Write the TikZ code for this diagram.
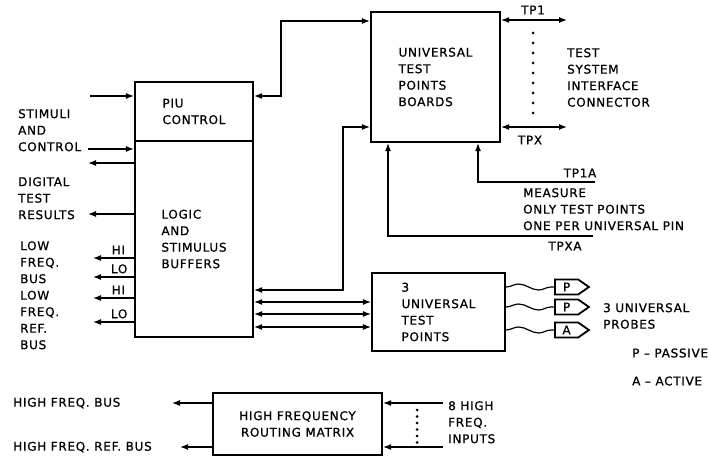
\documentclass[tikz,border=0pt]{standalone}
\usepackage{fontspec}
\setmainfont{DejaVu Sans}[LetterSpace=6, FakeBold=0.8]
\usetikzlibrary{arrows.meta, positioning, shapes.symbols, decorations.pathmorphing}
\newcommand\lbl{\fontsize{12}{16.5}\selectfont}

\begin{document}
\begin{tikzpicture}[
  x=1pt, y=-1pt,
  box/.style={draw, line width=2.2pt, inner sep=0pt, align=left, font=\lbl},
  txt/.style={inner sep=0pt, align=left, font=\lbl},
  wire/.style={line width=1.2pt},
  probe/.style={draw, line width=1.8pt, signal, signal to=east, signal pointer angle=70, minimum width=34pt, minimum height=15pt, inner sep=1pt, font=\lbl},
  wavy/.style={wire, decorate, decoration={snake, amplitude=3pt, segment length=40pt}},
  dots/.style={line width=3pt, line cap=round, dash pattern=on 0pt off 10pt},
  >={Latex[length=8pt,width=6pt]}
]
\useasboundingbox (0,0) rectangle (708,457);

\node[box, minimum width=118pt, minimum height=59pt]  (piu)   at (194,111.5) {PIU\\CONTROL};
\node[box, minimum width=118pt, minimum height=196pt] (logic) at (194,239)   {LOGIC\\AND\\STIMULUS\\BUFFERS};
\node[box, minimum width=129pt, minimum height=130pt] (utpb)  at (435.5,77)  {UNIVERSAL\\TEST\\POINTS\\BOARDS};
\node[box, minimum width=133pt, minimum height=78pt]  (utp)   at (438.5,312) {3\\UNIVERSAL\\TEST\\POINTS};
\node[box, minimum width=169pt, minimum height=62pt, align=center] (hfrm) at (297.5,424) {HIGH FREQUENCY\\ROUTING MATRIX};

\node[probe, anchor=west] (prb1) at (554,287) {P};
\node[probe, anchor=west] (prb2) at (554,307) {P};
\node[probe, anchor=west] (prb3) at (554,330) {A};

\node[txt, anchor=north west] (stimtxt) at (18,109)  {STIMULI\\AND\\CONTROL};
\node[txt, anchor=north west] (digtxt)  at (18,177)  {DIGITAL\\TEST\\RESULTS};
\node[txt, anchor=north west] (lowtxt)  at (20,241)  {LOW\\FREQ.\\BUS\\LOW\\FREQ.\\REF.\\BUS};
\node[txt, anchor=west] (hfbustxt) at (13,403) {HIGH FREQ. BUS};
\node[txt, anchor=west] (hfreftxt) at (13,447) {HIGH FREQ. REF. BUS};
\node[txt, anchor=north west] (tsictxt) at (567,48)  {TEST\\SYSTEM\\INTERFACE\\CONNECTOR};
\node[txt] (tp1txt)  at (533,10)  {TP1};
\node[txt] (tpxtxt)  at (530,140) {TPX};
\node[txt] (tp1atxt) at (580,173) {TP1A};
\node[txt, anchor=north west] (meastxt) at (523,188) {MEASURE\\ONLY TEST POINTS\\ONE PER UNIVERSAL PIN};
\node[txt] (tpxatxt) at (565,246) {TPXA};
\node[txt, anchor=north west] (prbtxt) at (603,303) {3 UNIVERSAL\\PROBES};
\node[txt, anchor=west] (pastxt) at (632,353) {P – PASSIVE};
\node[txt, anchor=west] (acttxt) at (632,381) {A – ACTIVE};
\node[txt, anchor=north west] (hfintxt) at (448,401) {8 HIGH\\FREQ.\\INPUTS};

\coordinate (stim) at (90,96);
\coordinate (ctrl) at (88,149);
\coordinate (res1) at (88,163);
\coordinate (res2) at (88,214);
\coordinate (lfhi) at (93,258);
\coordinate (lflo) at (93,277);
\coordinate (rfhi) at (93,298);
\coordinate (rflo) at (93,322);
\coordinate (piujog) at (281,21);
\coordinate (tpjog) at (343,127);
\coordinate (tpret) at (343,290);
\coordinate (bus1) at (310,302);
\coordinate (bus2) at (310,314);
\coordinate (bus3) at (310,327);
\coordinate (tp1) at (567,20);
\coordinate (tpx) at (567,127);
\coordinate (tp1a) at (595,182);
\coordinate (tp1ajog) at (478,182);
\coordinate (tpxa) at (593,236);
\coordinate (tpxajog) at (388,236);
\coordinate (hfbus) at (172,403);
\coordinate (hfref) at (180,447);
\coordinate (hfin1) at (443,403);
\coordinate (hfin2) at (443,447);
\coordinate (tpdot1) at (533,33);
\coordinate (tpdot2) at (533,115);
\coordinate (hfdot1) at (417,410);
\coordinate (hfdot2) at (417,443);

\draw[wire, ->] (stim) -- (stim -| piu.west);
\draw[wire, ->] (ctrl) -- (ctrl -| logic.west);
\draw[wire, ->] (res1 -| logic.west) -- (res1);
\draw[wire, ->] (res2 -| logic.west) -- (res2);
\draw[wire, ->] (lfhi -| logic.west) -- node[txt, above=3pt, pos=0.38] (hi1) {HI} (lfhi);
\draw[wire, ->] (lflo -| logic.west) -- node[txt, above=3pt, pos=0.36] (lo1) {LO} (lflo);
\draw[wire, ->] (rfhi -| logic.west) -- node[txt, above=3pt, pos=0.38] (hi2) {HI} (rfhi);
\draw[wire, ->] (rflo -| logic.west) -- node[txt, above=3pt, pos=0.36] (lo2) {LO} (rflo);

\draw[wire, <->] (stim -| piu.east) -| (piujog) -- (piujog -| utpb.west);
\draw[wire, <->] (tpjog -| utpb.west) -- (tpjog) -- (tpret) -- (tpret -| logic.east);
\draw[wire, <->] (bus1 -| logic.east) -- (bus1 -| utp.west);
\draw[wire, <->] (bus2 -| logic.east) -- (bus2 -| utp.west);
\draw[wire, <->] (bus3 -| logic.east) -- (bus3 -| utp.west);

\draw[wire, <->] (tp1 -| utpb.east) -- (tp1);
\draw[wire, <->] (tpx -| utpb.east) -- (tpx);
\draw[dots] (tpdot1) -- (tpdot2);
\draw[wire, ->] (tp1a) -- (tp1ajog) -- (tp1ajog |- utpb.south);
\draw[wire, ->] (tpxa) -- (tpxajog) -- (tpxajog |- utpb.south);

\draw[wavy] (prb1.west -| utp.east) -- (prb1.west);
\draw[wavy] (prb2.west -| utp.east) -- (prb2.west);
\draw[wavy] (prb3.west -| utp.east) -- (prb3.west);

\draw[wire, ->] (hfbus -| hfrm.west) -- (hfbus);
\draw[wire, ->] (hfref -| hfrm.west) -- (hfref);
\draw[wire, ->] (hfin1) -- (hfin1 -| hfrm.east);
\draw[wire, ->] (hfin2) -- (hfin2 -| hfrm.east);
\draw[dots, dash pattern=on 0pt off 6.5pt] (hfdot1) -- (hfdot2);
\end{tikzpicture}
\end{document}
